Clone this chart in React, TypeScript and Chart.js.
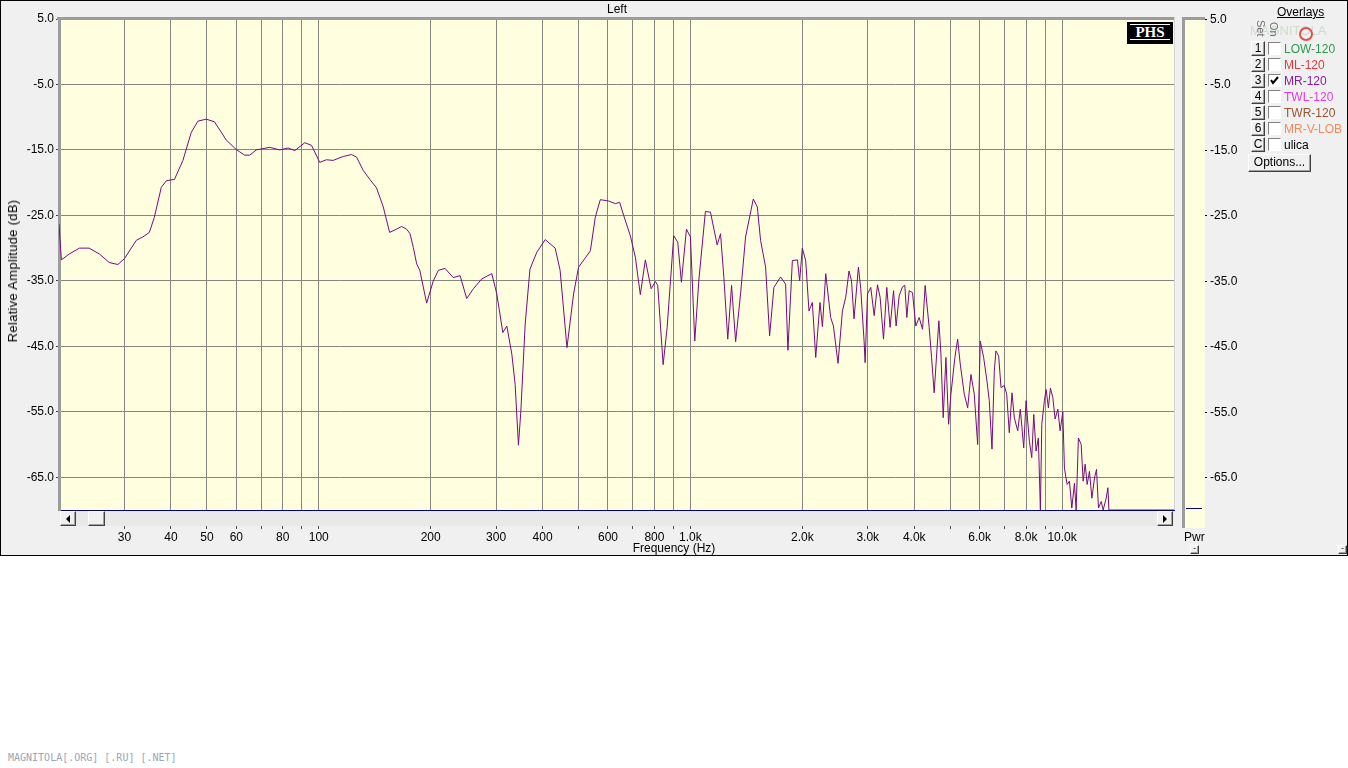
import React, { useEffect, useRef } from 'react';
import { Chart, registerables } from 'chart.js';

Chart.register(...registerables);

// ---- data (frequency in Hz, level in dB) ----
const freqHz = [
  20, 20.3, 21.3, 22.7, 24.1, 25.7, 27.3, 28.8, 30, 32.3, 33.6, 35.0, 36.1, 37.7, 38.9, 40.9, 43.1, 45.4, 47.3, 49.8,
  52.4, 56.4, 60.0, 63.2, 65.2, 67.9, 73.8, 78.5, 82.7, 86.2, 91.7, 95.6, 100.6, 104.9, 109.3, 116.3, 122.5, 126.4, 131.6, 137.2,
  143.0, 149.1, 155.1, 162, 167, 172.3, 176, 179.6, 183.4, 187, 195.1, 203.3, 209.7, 218.6, 230.1, 240, 250, 260.6, 274.5, 292.1,
  301.3, 312.7, 320.6, 330.7, 337.5, 344.5, 349.7, 359.2, 370, 386.3, 406.7, 432.6, 446, 465.3, 484.8, 500, 521.2, 538, 554.5, 572,
  602.4, 627.9, 644.9, 661.2, 689, 710.9, 733, 756.2, 783.7, 805, 816.6, 844.3, 865.6, 901.6, 924.3, 945.6, 975.4, 1000, 1027, 1053,
  1097, 1132, 1180, 1205, 1230, 1260, 1290, 1323, 1364, 1407, 1476, 1513, 1544, 1593, 1633, 1677, 1748, 1803, 1829, 1880,
  1940, 1967, 2000, 2042, 2084, 2128, 2173, 2231, 2265, 2312, 2384, 2425, 2495, 2564, 2617, 2671, 2712, 2755, 2831, 2872,
  2932, 2951, 2995, 3056, 3121, 3186, 3238, 3307, 3375, 3445, 3519, 3576, 3643, 3721, 3774, 3821, 3876, 3958, 4040, 4124,
  4212, 4280, 4388, 4454, 4526, 4603, 4660, 4720, 4787, 4868, 4950, 5021, 5147, 5235, 5320, 5454, 5570, 5685, 5802, 5926,
  6023, 6150, 6278, 6368, 6476, 6569, 6637, 6750, 6849, 6990, 7094, 7209, 7331, 7436, 7595, 7719, 7883, 7998, 8164, 8285,
  8389, 8510, 8632, 8740, 8817, 8960, 9055, 9186, 9301, 9439, 9575, 9737, 9877, 10044, 10144, 10316, 10464, 10619, 10794, 10907,
  11063, 11253, 11392, 11535, 11679, 11846, 12025, 12221, 12374, 12529, 12739, 12897, 13140, 13280, 13363, 20000,
];

const levelDb = [
  -26.3, -31.8, -30.9, -30.0, -30.0, -30.9, -32.2, -32.5, -31.6, -28.8, -28.3, -27.6, -25.3, -20.7, -19.7, -19.5, -16.6, -12.3, -10.6, -10.3,
  -10.7, -13.5, -14.95, -15.8, -15.8, -15.0, -14.6, -15.0, -14.7, -15.1, -13.9, -14.3, -16.9, -16.5, -16.6, -16.0, -15.7, -16.1, -18.1, -19.5,
  -20.8, -23.7, -27.6, -27.1, -26.7, -27.1, -27.8, -29.9, -32.4, -33.4, -38.4, -35.0, -33.4, -33.1, -34.5, -34.2, -37.7, -36.2, -34.7, -33.9,
  -37.0, -42.9, -41.9, -46.2, -50.8, -60.1, -54.9, -41.6, -33.2, -30.6, -28.7, -30.0, -33.4, -45.2, -37.0, -32.9, -31.5, -30.4, -25.3, -22.6,
  -22.8, -23.2, -23.0, -25.0, -28.1, -31.4, -37.1, -31.8, -36.2, -35.1, -35.7, -47.8, -42.1, -28.1, -29.1, -35.2, -27.1, -28.3, -44.2, -35.0,
  -24.4, -24.5, -29.5, -27.8, -34.5, -43.9, -35.7, -44.3, -37.0, -28.3, -22.5, -23.7, -28.8, -32.9, -43.4, -36.0, -34.4, -35.5, -45.6, -31.9,
  -31.8, -35.0, -30.0, -31.9, -39.6, -38.3, -46.7, -38.3, -42.0, -33.9, -40.6, -41.9, -47.6, -39.6, -37.5, -33.5, -35.0, -40.8, -32.9, -36.2,
  -44.2, -47.5, -37.0, -36.0, -40.3, -35.6, -37.5, -43.9, -36.0, -42.1, -36.5, -41.9, -37.3, -35.9, -35.7, -40.6, -36.5, -36.8, -41.9, -40.6,
  -42.4, -35.7, -42.1, -46.7, -52.1, -45.7, -41.1, -46.2, -55.9, -46.7, -56.9, -52.3, -46.7, -43.9, -47.7, -52.3, -54.4, -49.3, -52.3, -60.0,
  -44.2, -46.7, -50.3, -53.3, -60.7, -48.8, -45.7, -46.5, -51.3, -51.0, -52.3, -58.2, -52.1, -55.9, -57.9, -54.6, -60.5, -53.3, -59.5, -62.0,
  -55.4, -61.0, -59.0, -70.0, -56.9, -53.3, -51.6, -54.4, -51.4, -52.8, -56.1, -54.6, -57.9, -55.0, -63.6, -66.1, -65.6, -69.7, -65.9, -70.0,
  -59.0, -60.0, -65.6, -63.0, -66.1, -64.1, -68.2, -65.1, -63.8, -69.7, -68.7, -70.0, -68.2, -66.6, -70.0, -70.0,
];

const xTickValues = [30, 40, 50, 60, 70, 80, 90, 100, 200, 300, 400, 500, 600, 700, 800, 900, 1000, 2000, 3000, 4000, 5000, 6000, 7000, 8000, 9000, 10000];
const xTickLabels = ['30', '40', '50', '60', '', '80', '', '100', '200', '300', '400', '', '600', '', '800', '', '1.0k', '2.0k', '3.0k', '4.0k', '', '6.0k', '', '8.0k', '', '10.0k'];
const yTickValues = [-65, -55, -45, -35, -25, -15, -5, 5];

const overlayKeys = ['1', '2', '3', '4', '5', '6', 'C'];
const overlayNames = ['LOW-120', 'ML-120', 'MR-120', 'TWL-120', 'TWR-120', 'MR-V-LOB', 'ulica'];
const overlayColors = ['#2c9a4c', '#e6383c', '#8a1c9e', '#e23ce2', '#9c5430', '#f28a5c', '#000000'];
const overlayOn = [false, false, true, false, false, false, false];

const FONT = "'Liberation Sans', Arial, sans-serif";
const CREAM = '#ffffe0';
const WIN = '#f0f0f0';

const bgPlugin = {
  id: 'plotBg',
  beforeDraw(chart: any) {
    const { ctx, chartArea: a } = chart;
    ctx.save();
    ctx.fillStyle = CREAM;
    ctx.fillRect(a.left, a.top, a.right - a.left, a.bottom - a.top);
    ctx.restore();
  },
};

const framePlugin = {
  id: 'plotFrame',
  beforeDatasetsDraw(chart: any) {
    const { ctx, chartArea: a } = chart;
    ctx.save();
    ctx.fillStyle = '#9c9c9c';
    ctx.fillRect(a.left - 2, a.top - 2, a.right - a.left + 2, 3);
    ctx.fillStyle = '#d4d4d4';
    ctx.fillRect(a.right, a.top - 2, 1, a.bottom - a.top + 2);
    ctx.restore();
  },
};

const rightAxisPlugin = {
  id: 'rightAxis',
  afterDraw(chart: any) {
    const { ctx } = chart;
    const ys = chart.scales.y;
    ctx.save();
    ctx.font = '12px ' + FONT;
    ctx.fillStyle = '#000';
    ctx.textAlign = 'left';
    ctx.textBaseline = 'middle';
    yTickValues.forEach((v) => {
      const py = ys.getPixelForValue(v);
      ctx.fillRect(1204, Math.round(py), 3, 1);
      ctx.fillText(v.toFixed(1), 1210, py + 0.5);
    });
    ctx.restore();
  },
};

const bevelOut: React.CSSProperties = {
  position: 'absolute',
  boxSizing: 'border-box',
  background: WIN,
  borderStyle: 'solid',
  borderWidth: 1,
  borderColor: '#ffffff #404040 #404040 #ffffff',
  boxShadow: 'inset -1px -1px 0 #a0a0a0',
};

function Arrow({ dir }: { dir: 'left' | 'right' }) {
  return (
    <div
      style={{
        position: 'absolute',
        left: '50%',
        top: '50%',
        transform: 'translate(-50%, -50%)',
        width: 0,
        height: 0,
        borderTop: '4px solid transparent',
        borderBottom: '4px solid transparent',
        borderRight: dir === 'left' ? '4px solid #000' : undefined,
        borderLeft: dir === 'right' ? '4px solid #000' : undefined,
      }}
    />
  );
}

export default function App() {
  const canvasRef = useRef<HTMLCanvasElement | null>(null);

  useEffect(() => {
    if (!canvasRef.current) return;
    const chart = new Chart(canvasRef.current, {
      type: 'line',
      data: {
        datasets: [
          {
            data: freqHz.map((f, i) => ({ x: f, y: levelDb[i] })),
            borderColor: '#760a82',
            borderWidth: 1,
            pointRadius: 0,
            tension: 0,
            fill: false,
          },
        ],
      },
      options: {
        responsive: false,
        animation: false,
        events: [],
        layout: { padding: { top: 19, right: 174, left: 0, bottom: 0 } },
        plugins: { legend: { display: false }, tooltip: { enabled: false }, title: { display: false } },
        scales: {
          x: {
            type: 'logarithmic',
            min: 20,
            max: 20000,
            afterBuildTicks: (s: any) => {
              s.ticks = xTickValues.map((v) => ({ value: v }));
            },
            afterFit: (s: any) => {
              s.height = 46;
            },
            ticks: {
              autoSkip: false,
              maxRotation: 0,
              minRotation: 0,
              padding: 1,
              color: '#000',
              font: { family: FONT, size: 12 },
              callback: (_v: any, i: number) => xTickLabels[i] ?? '',
            },
            grid: { color: '#868680', lineWidth: 1, drawTicks: true, tickLength: 19, tickColor: '#505050' },
            border: { display: true, color: '#000080', width: 1 },
          },
          y: {
            type: 'linear',
            min: -70,
            max: 5,
            afterBuildTicks: (s: any) => {
              s.ticks = yTickValues.map((v) => ({ value: v }));
            },
            afterFit: (s: any) => {
              s.width = 59;
            },
            ticks: {
              padding: 2,
              color: '#000',
              font: { family: FONT, size: 12 },
              callback: (v: any) => Number(v).toFixed(1),
            },
            grid: { color: '#868680', lineWidth: 1, drawTicks: true, tickLength: 3, tickColor: '#404040' },
            border: { display: true, color: '#9c9c9c', width: 3 },
          },
        },
      } as any,
      plugins: [bgPlugin, framePlugin, rightAxisPlugin],
    });
    return () => chart.destroy();
  }, []);

  const txt: React.CSSProperties = { position: 'absolute', font: '12px ' + FONT, color: '#000', whiteSpace: 'nowrap', lineHeight: '14px' };

  return (
    <div style={{ position: 'fixed', left: 0, top: 0, width: 1348, height: 768, background: '#ffffff', overflow: 'hidden' }}>
      <div style={{ position: 'absolute', left: 0, top: 0, width: 1348, height: 556, background: WIN }}>
        <canvas ref={canvasRef} width={1348} height={556} style={{ position: 'absolute', left: 0, top: 0, width: 1348, height: 556 }} />

        {/* title */}
        <div style={{ ...txt, left: 617, top: 9, transform: 'translate(-50%, -50%)' }}>Left</div>
        {/* y axis title */}
        <div style={{ ...txt, left: 13, top: 271, fontSize: 13, letterSpacing: 0.3, transform: 'translate(-50%, -50%) rotate(-90deg)' }}>Relative Amplitude (dB)</div>
        {/* x axis title */}
        <div style={{ ...txt, left: 674, top: 548, transform: 'translate(-50%, -50%)' }}>Frequency (Hz)</div>

        {/* PHS badge */}
        <div style={{ position: 'absolute', left: 1127, top: 22, width: 46, height: 22, background: '#000', boxSizing: 'border-box', padding: '2px 3px' }}>
          <div style={{ borderTop: '1px solid #fff', borderBottom: '1px solid #fff', color: '#fff', font: "bold 15px 'Liberation Serif', 'DejaVu Serif', serif", lineHeight: '15px', textAlign: 'center', height: 16, boxSizing: 'border-box' }}>PHS</div>
        </div>

        {/* scrollbar */}
        <div style={{ position: 'absolute', left: 59, top: 511, width: 1115, height: 15, background: '#e9e9e9' }} />
        <div style={{ ...bevelOut, left: 60, top: 511, width: 16, height: 15 }}>
          <Arrow dir="left" />
        </div>
        <div style={{ ...bevelOut, left: 88, top: 511, width: 17, height: 15 }} />
        <div style={{ ...bevelOut, left: 1157, top: 511, width: 16, height: 15 }}>
          <Arrow dir="right" />
        </div>

        {/* power panel */}
        <div style={{ position: 'absolute', left: 1182, top: 17, width: 23, height: 511, boxSizing: 'border-box', background: CREAM, borderLeft: '3px solid #9c9c9c', borderTop: '3px solid #9c9c9c' }} />
        <div style={{ position: 'absolute', left: 1186, top: 508, width: 16, height: 1, background: '#000080' }} />
        <div style={{ ...txt, left: 1184, top: 530 }}>Pwr</div>
        <div style={{ ...bevelOut, left: 1190, top: 545, width: 9, height: 9, fontSize: 8, lineHeight: '6px', textAlign: 'center' }}>-</div>
        <div style={{ ...bevelOut, left: 1338, top: 545, width: 9, height: 9, fontSize: 8, lineHeight: '6px', textAlign: 'center' }}>-</div>

        {/* overlays panel */}
        <div style={{ ...txt, left: 1277, top: 5, textDecoration: 'underline' }}>Overlays</div>
        <div style={{ ...txt, left: 1250, top: 24, color: 'rgba(120,170,120,0.28)', fontSize: 13, letterSpacing: 0 }}>MAGNITOLA</div>
        <div style={{ position: 'absolute', left: 1299, top: 27, width: 10, height: 10, borderRadius: '50%', border: '2px solid #e05050' }} />
        <div style={{ ...txt, left: 1255, top: 20, fontSize: 11, color: '#707070', writingMode: 'vertical-rl' as any, lineHeight: '11px' }}>Set</div>
        <div style={{ ...txt, left: 1268, top: 22, fontSize: 11, color: '#707070', writingMode: 'vertical-rl' as any, lineHeight: '11px' }}>On</div>
        {overlayNames.map((name, i) => {
          const top = 41 + i * 16;
          return (
            <React.Fragment key={name}>
              <div style={{ ...bevelOut, left: 1251, top, width: 14, height: 15, font: '12px ' + FONT, lineHeight: '13px', textAlign: 'center' }}>{overlayKeys[i]}</div>
              <div style={{ position: 'absolute', left: 1268, top: top + 1, width: 13, height: 13, boxSizing: 'border-box', background: '#fff', borderStyle: 'solid', borderWidth: 1, borderColor: '#808080 #ffffff #ffffff #808080' }}>
                {overlayOn[i] ? (
                  <svg width="11" height="11" style={{ position: 'absolute', left: 0, top: 0 }}>
                    <polyline points="2,5 4,8 9,2" fill="none" stroke="#000" strokeWidth="2" />
                  </svg>
                ) : null}
              </div>
              <div style={{ ...txt, left: 1284, top: top + 1, color: overlayColors[i] }}>{name}</div>
            </React.Fragment>
          );
        })}
        <div style={{ ...bevelOut, left: 1248, top: 154, width: 63, height: 18, font: '12px ' + FONT, lineHeight: '15px', textAlign: 'center' }}>Options...</div>

        {/* window border */}
        <div style={{ position: 'absolute', left: 0, top: 0, width: 1348, height: 556, boxSizing: 'border-box', border: '1px solid #000', pointerEvents: 'none' }} />
      </div>

      <div style={{ position: 'absolute', left: 8, top: 752, font: "10px 'DejaVu Sans Mono', monospace", color: '#9aa6b6', whiteSpace: 'nowrap' }}>MAGNITOLA[.ORG] [.RU] [.NET]</div>
    </div>
  );
}
